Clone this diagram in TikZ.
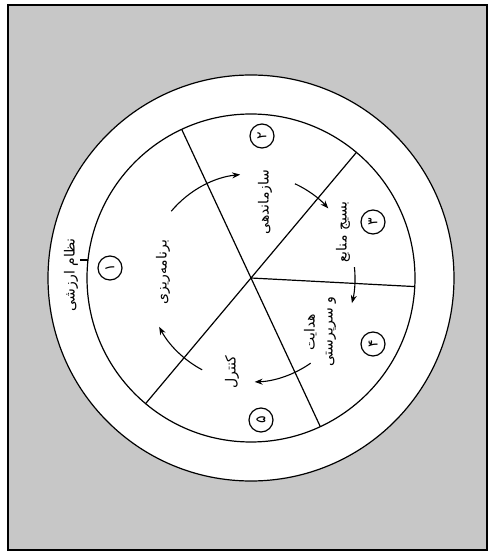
\documentclass[tikz,border=0pt]{standalone}
\usepackage{fontspec}
\newfontfamily\farsi[Script=Arabic]{DejaVu Sans}
\TeXXeTstate=1
\usetikzlibrary{arrows.meta,calc}

\tikzset{
  sector/.style={font=\farsi\fontsize{14}{18}\selectfont, rotate=90, inner sep=1pt, align=center},
  num/.style={draw, circle, line width=1.2pt, minimum size=24pt, inner sep=0pt,
    font=\farsi\fontsize{14}{14}\selectfont, rotate=90},
  turn/.style={line width=1.1pt, -{Stealth[length=8pt,width=6pt]}},
}

\begin{document}
\begin{tikzpicture}[x=1pt, y=1pt, line width=1.2pt]
	% параметры
	\def\Ro{203} % внешний круг
	\def\Ri{164} % внутренний круг
	\def\Ra{104} % радиус стрелок

	\useasboundingbox (0,0) rectangle (490,558);

	% фон
	\draw[fill=black!22, line width=1.4pt] (8,8) rectangle (487,553);

	% кольцо
	\coordinate (hub) at (251,280);
	\draw[fill=white] (hub) circle[radius=\Ro];
	\draw (hub) circle[radius=\Ri];

	% радиусы
	\foreach \i/\a in {1/115, 2/50, 3/-3, 4/-65, 5/230} {
		\coordinate (s\i) at ($(hub)+(\a:\Ri)$);
		\draw (hub) -- (s\i);
	}

	% подписи
	\node[sector] (vs)   at (71,283)  {\farsi\beginR نظام ارزشی\endR};
	\node[sector] (plan) at (163,286) {\farsi\beginR برنامه‌ریزی\endR};
	\node[sector] (org)  at (265,356) {\farsi\beginR سازماندهی\endR};
	\node[sector] (mob)  at (343,326) {\farsi\beginR بسیج منابع\endR};
	\node[sector] (dir)  at (320,226) {\farsi\beginR هدایت\endR\\\farsi\beginR و سرپرستی\endR};
	\node[sector] (ctrl) at (232,186) {\farsi\beginR کنترل\endR};

	\coordinate (vtick) at ($(hub)+(173.7:\Ri)$);
	\draw (vtick) -- (vtick -| vs.south);

	% номера
	\node[num] (n1) at (110,290) {\beginR ۱\endR};
	\node[num] (n2) at (262,422) {\beginR ۲\endR};
	\node[num] (n3) at (373,336) {\beginR ۳\endR};
	\node[num] (n4) at (373,214) {\beginR ۴\endR};
	\node[num] (n5) at (261,138) {\beginR ۵\endR};

	% стрелки по кругу
	\foreach \i/\s/\e in {1/140/96, 2/65/42, 3/6/-14, 4/-55/-88, 5/242/208} {
		\coordinate (p\i) at ($(hub)+(\s:\Ra)$);
		\draw[turn] (p\i) arc[start angle=\s, end angle=\e, radius=\Ra];
	}
\end{tikzpicture}
\end{document}
